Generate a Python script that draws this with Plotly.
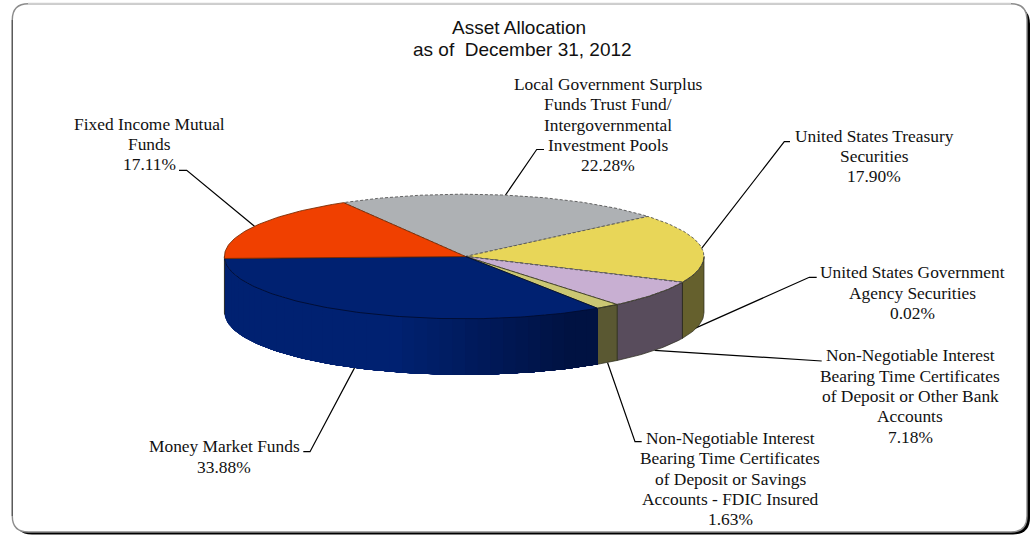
import math
import plotly.graph_objects as go

# Portfolio shares, clockwise from the Fixed Income / Local Government boundary
names = [
    ["Local Government Surplus", "Funds Trust Fund/", "Intergovernmental", "Investment Pools"],
    ["United States Treasury", "Securities"],
    ["United States Government", "Agency Securities"],
    ["Non-Negotiable Interest", "Bearing Time Certificates", "of Deposit or Other Bank", "Accounts"],
    ["Non-Negotiable Interest", "Bearing Time Certificates", "of Deposit or Savings", "Accounts - FDIC Insured"],
    ["Money Market Funds"],
    ["Fixed Income Mutual", "Funds"],
]
shares = [22.28, 17.90, 0.02, 7.18, 1.63, 33.88, 17.11]
title_lines = ["Asset Allocation", "as of\u00a0\u00a0December 31, 2012"]
title_x = [519, 522]
title_y = [27.5, 49.5]

top_colors = ["#aeb1b4", "#e8d658", "#8a8a50", "#c8afd2", "#cbc773", "#002171", "#f04000"]
wall_colors = ["#6a6c6e", "#65602d", "#65602d", "#584c5c", "#5a5832", "#002171", "#8f2600"]
outline_dash = ["3px,2px", "3px,2px", "solid", "3px,2px", "solid", "solid", "solid"]
outline_colors = ["#555555", "#555555", "#555555", "#555555", "#3a3a20", "#000c30", "#7a2a00"]

# Pie projection on the page, in pixels
CX, CY, RX, RY, DEPTH = 464.2, 256.5, 239.8, 62.3, 56.0
APEX = (465.5, 256.5)
START_ANGLE = 120.2
LINE_STEP = 20.3

# Label centre, leader tip and elbow, and how far down the wall the leader lands
label_x = [608, 874, 912, 910, 730, 224, 149]
label_y = [124.5, 156, 292.5, 396, 478.5, 456.5, 144]
leader_tip = [(544, 149.5), (790, 141.7), (816.7, 277.3), (821.7, 361),
              (641.7, 441.7), (303.3, 451.7), (179, 170.3)]
leader_elbow = [(536.7, 149.5), (784.3, 141.7), (809.3, 277.3), None,
                (635, 441.7), (310, 451.7), (186.7, 170.3)]
leader_wall = [0, 0, 0.92, 1, 1, 1, 0]

SERIF = "Liberation Serif"
SANS = "Liberation Sans"


def rim(angle_deg, depth=0.0):
    a = math.radians(angle_deg)
    return CX + RX * math.cos(a), CY - RY * math.sin(a) + depth


def arc(a0, a1, depth=0.0, step=1.0):
    n = max(1, int(abs(a1 - a0) / step))
    return [rim(a0 + (a1 - a0) * i / n, depth) for i in range(n + 1)]


def polygon(points, fill, line_color=None, width=0.0, dash="solid"):
    return go.Scatter(
        x=[p[0] for p in points], y=[p[1] for p in points], mode="lines",
        fill="toself", fillcolor=fill,
        line=dict(color=line_color or fill, width=width, dash=dash),
        hoverinfo="skip", showlegend=False,
    )


def mix(c0, c1, t):
    return "rgb(%d,%d,%d)" % tuple(round(a + (b - a) * t) for a, b in zip(c0, c1))


# Slice boundaries in degrees, running clockwise
edges = [START_ANGLE]
for s in shares:
    edges.append(edges[-1] - s * 3.6)

fig = go.Figure()

# Leader lines sit beneath the pie
for i in range(len(shares)):
    mid = (edges[i] + edges[i + 1]) / 2
    end = rim(mid, DEPTH * leader_wall[i])
    pts = [leader_tip[i]] + ([leader_elbow[i]] if leader_elbow[i] else []) + [end]
    fig.add_trace(go.Scatter(
        x=[p[0] for p in pts], y=[p[1] for p in pts], mode="lines",
        line=dict(color="#000000", width=1.2), hoverinfo="skip", showlegend=False,
    ))

# Outer wall of the front half; the navy wall darkens towards the right.
# Each navy band runs on to the slice's far end so no seams open between bands.
NAVY_LIGHT, NAVY_DARK = (0, 33, 113), (0, 18, 66)
NAVY_INDEX = 5
for i in range(len(shares)):
    lo_v, hi_v = max(edges[i + 1], -180.0), min(edges[i], 0.0)
    if lo_v >= hi_v:
        continue
    if i == NAVY_INDEX:
        bands = 40
        for b in range(bands):
            a0 = lo_v + (hi_v - lo_v) * b / bands
            a1 = lo_v + (hi_v - lo_v) * (b + 1) / bands
            t = min(1.0, max(0.0, (rim((a0 + a1) / 2)[0] - 395) / 175))
            fig.add_trace(polygon(arc(a0, hi_v) + arc(hi_v, a0, DEPTH), mix(NAVY_LIGHT, NAVY_DARK, t)))
    else:
        pts = arc(hi_v, lo_v) + arc(lo_v, hi_v, DEPTH)
        fig.add_trace(polygon(pts + pts[:1], wall_colors[i], "#2a2a1a", 0.7))

# Navy also wraps the sliver of wall at the far left
fig.add_trace(polygon(arc(180.0, edges[NAVY_INDEX + 1] + 360) + arc(edges[NAVY_INDEX + 1] + 360, 180.0, DEPTH), "#002171"))

# Top faces of the slices
for i in range(len(shares)):
    pts = [APEX] + arc(edges[i], edges[i + 1]) + [APEX]
    fig.add_trace(polygon(pts, top_colors[i], outline_colors[i], 0.9, outline_dash[i]))

# Solid rim along the front of the top face
front = arc(0, edges[NAVY_INDEX])
fig.add_trace(go.Scatter(
    x=[p[0] for p in front], y=[p[1] for p in front], mode="lines",
    line=dict(color="#3a3a2a", width=0.8), hoverinfo="skip", showlegend=False,
))

annotations = []
for line, x, y in zip(title_lines, title_x, title_y):
    annotations.append(dict(x=x, y=y, text=line,
                            font=dict(family=SANS, size=19, color="#111111")))
for name, share, x, y in zip(names, shares, label_x, label_y):
    lines = name + [f"{share:.2f}%"]
    first = y - LINE_STEP * (len(lines) - 1) / 2
    for n, line in enumerate(lines):
        annotations.append(dict(x=x, y=first + LINE_STEP * n, text=line,
                                font=dict(family=SERIF, size=17.4, color="#111111")))
for a in annotations:
    a.update(xref="x", yref="y", showarrow=False, align="center", xanchor="center", yanchor="middle")


def rounded(x0, y0, x1, y1, r):
    return (f"M {x0 + r},{y0} L {x1 - r},{y0} Q {x1},{y0} {x1},{y0 + r} "
            f"L {x1},{y1 - r} Q {x1},{y1} {x1 - r},{y1} L {x0 + r},{y1} "
            f"Q {x0},{y1} {x0},{y1 - r} L {x0},{y0 + r} Q {x0},{y0} {x0 + r},{y0} Z")


# Card behind the chart: drop shadow, white panel, then lit top and left edges
shapes = [
    dict(type="path", path=rounded(15, 7, 1030, 534.5, 17), fillcolor="#000000",
         line=dict(width=0), layer="below"),
    dict(type="path", path=rounded(12.3, 3.7, 1027, 532, 16), fillcolor="#ffffff",
         line=dict(color="#8c8c8c", width=1.4), layer="below"),
    dict(type="line", x0=28, y0=3.7, x1=1011, y1=3.7, line=dict(color="#cfcfcf", width=2), layer="below"),
    dict(type="line", x0=12.3, y0=20, x1=12.3, y1=516, line=dict(color="#555555", width=1.2), layer="below"),
]

fig.update_layout(
    width=1034, height=535, margin=dict(l=0, r=0, t=0, b=0),
    paper_bgcolor="#ffffff", plot_bgcolor="rgba(0,0,0,0)",
    xaxis=dict(range=[0, 1034], visible=False, fixedrange=True),
    yaxis=dict(range=[535, 0], visible=False, fixedrange=True),
    annotations=annotations, shapes=shapes, showlegend=False,
)

fig.write_html("out.html", config=dict(displayModeBar=False))
